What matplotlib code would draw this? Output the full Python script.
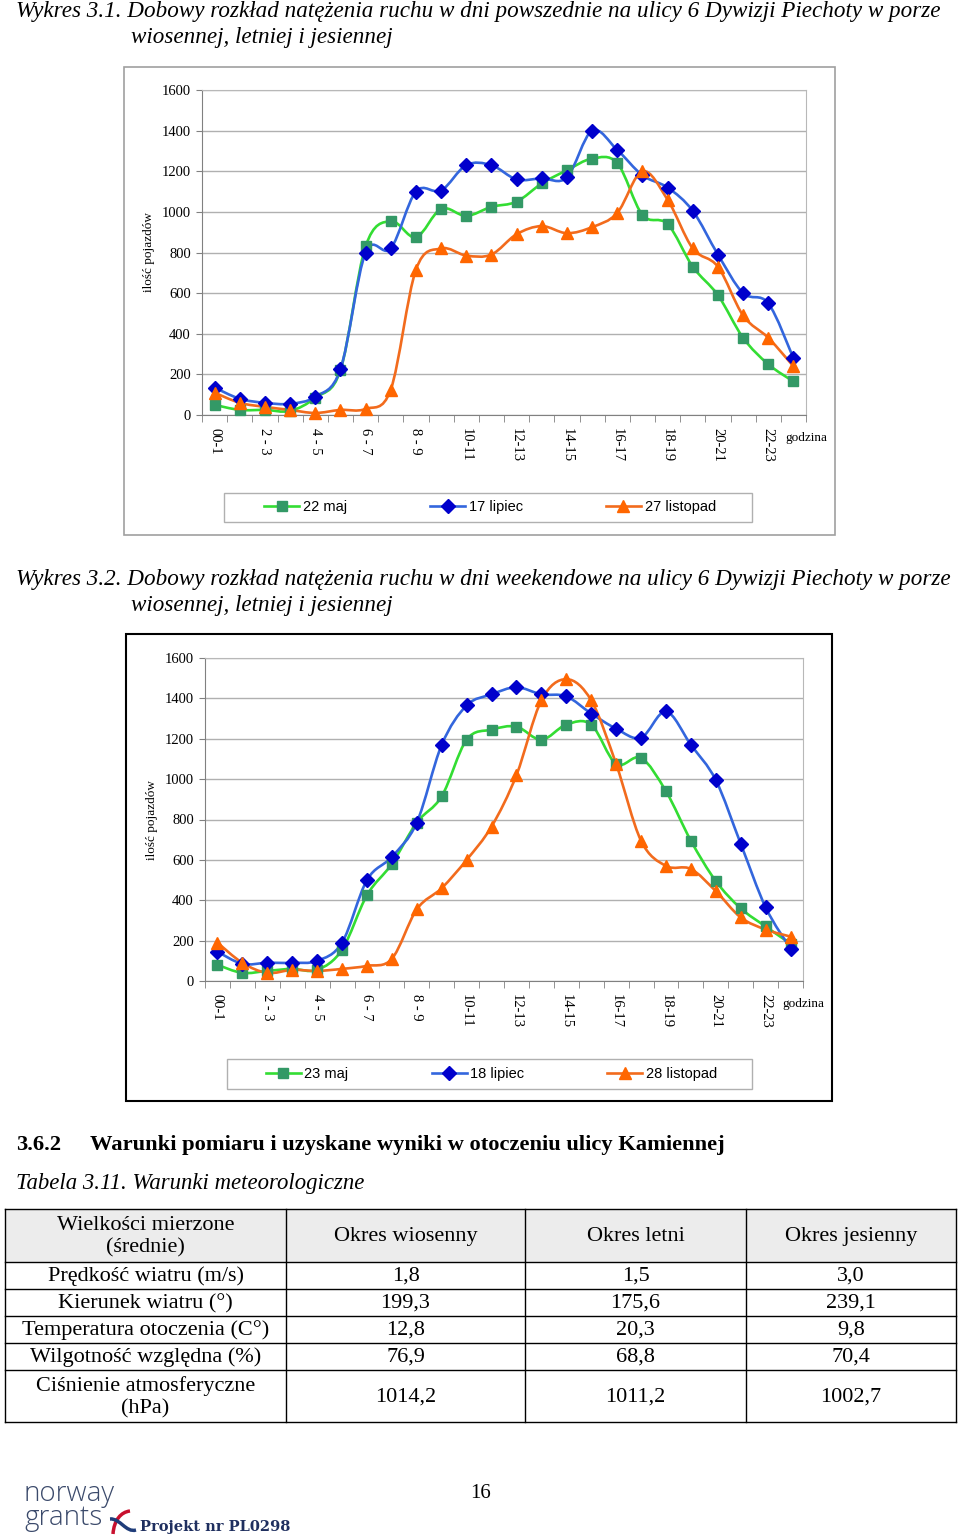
import matplotlib
matplotlib.use("Agg")
import matplotlib.pyplot as plt
from matplotlib.path import Path
from matplotlib.patches import PathPatch, Rectangle
from matplotlib.lines import Line2D

# godziny (kategorie osi X)
hours = list(range(24))
hour_labels = ['00-1', '2 - 3', '4 - 5', '6 - 7', '8 - 9', '10-11',
               '12-13', '14-15', '16-17', '18-19', '20-21', '22-23']

# wykres 3.1 - dni powszednie
maj22 = [50, 25, 25, 20, 85, 220, 830, 955, 875, 1015, 980, 1025,
         1050, 1140, 1205, 1262, 1240, 985, 940, 730, 590, 380, 250, 165]
lip17 = [135, 80, 60, 55, 90, 225, 800, 820, 1100, 1105, 1230, 1230,
         1160, 1165, 1170, 1400, 1305, 1180, 1120, 1005, 790, 600, 550, 280]
lis27 = [110, 60, 40, 25, 10, 25, 30, 125, 715, 820, 785, 790,
         890, 930, 895, 925, 995, 1200, 1060, 820, 730, 490, 380, 240]

# wykres 3.2 - weekend
maj23 = [80, 40, 50, 60, 55, 155, 425, 580, 785, 915, 1195, 1245,
         1260, 1195, 1270, 1270, 1075, 1105, 940, 695, 495, 360, 270, 185]
lip18 = [145, 85, 90, 90, 100, 190, 500, 615, 785, 1170, 1365, 1420,
         1455, 1420, 1410, 1325, 1250, 1205, 1335, 1170, 995, 680, 365, 160]
lis28 = [190, 90, 40, 55, 50, 60, 75, 110, 355, 460, 600, 765,
         1020, 1390, 1495, 1390, 1075, 695, 570, 555, 445, 315, 255, 220]

# tabela 3.11
tab_header = ['Wielkości mierzone\n(średnie)', 'Okres wiosenny', 'Okres letni', 'Okres jesienny']
tab_rows = ['Prędkość wiatru (m/s)', 'Kierunek wiatru (°)', 'Temperatura otoczenia (C°)',
            'Wilgotność względna (%)', 'Ciśnienie atmosferyczne\n(hPa)']
tab_spring = ['1,8', '199,3', '12,8', '76,9', '1014,2']
tab_summer = ['1,5', '175,6', '20,3', '68,8', '1011,2']
tab_autumn = ['3,0', '239,1', '9,8', '70,4', '1002,7']

SERIF = ['Liberation Serif', 'DejaVu Serif']
SANS = ['Liberation Sans', 'DejaVu Sans']

W, H = 960, 1539
fig = plt.figure(figsize=(W / 100, H / 100), dpi=100)
fig.patch.set_facecolor('white')

page = fig.add_axes([0, 0, 1, 1])
page.set_xlim(0, W)
page.set_ylim(H, 0)
page.axis('off')
page.set_zorder(0)


def smooth_path(xs, ys):
    # wygladzona linia jak w Excelu (krzywe Beziera przez punkty)
    pts = list(zip(xs, ys))
    n = len(pts)
    verts = [pts[0]]
    codes = [Path.MOVETO]
    for i in range(n - 1):
        p0 = pts[i - 1] if i > 0 else pts[i]
        p1 = pts[i]
        p2 = pts[i + 1]
        p3 = pts[i + 2] if i + 2 < n else pts[i + 1]
        c1 = (p1[0] + (p2[0] - p0[0]) / 6, p1[1] + (p2[1] - p0[1]) / 6)
        c2 = (p2[0] - (p3[0] - p1[0]) / 6, p2[1] - (p3[1] - p1[1]) / 6)
        verts += [c1, c2, p2]
        codes += [Path.CURVE4] * 3
    return Path(verts, codes)


styles = [
    dict(line='#33dd33', face='#339966', marker='s', ms=7),
    dict(line='#3366dd', face='#0000cc', marker='D', ms=7),
    dict(line='#f26b1d', face='#ff6600', marker='^', ms=9),
]


def draw_chart(rect, series, labels, legend_box):
    left, right, top, bottom = rect
    ax = fig.add_axes([left / W, 1 - bottom / H, (right - left) / W, (bottom - top) / H])
    ax.set_zorder(2)
    ax.set_xlim(-0.5, 23.5)
    ax.set_ylim(0, 1600)
    ax.set_yticks(range(0, 1601, 200))
    ax.set_yticklabels([str(v) for v in range(0, 1601, 200)], family=SERIF, fontsize=10.5)
    ax.set_xticks(range(0, 24, 2))
    ax.set_xticklabels(hour_labels, rotation=-90, family=SERIF, fontsize=10.5, va='top')
    ax.set_xticks([h - 0.5 for h in range(25)], minor=True)
    ax.tick_params(axis='x', which='major', length=0, pad=9)
    ax.tick_params(axis='x', which='minor', length=5, color='#808080')
    ax.tick_params(axis='y', length=4, color='#808080', pad=4)
    ax.grid(axis='y', color='#b0b0b0', linewidth=1)
    ax.set_axisbelow(True)
    for s in ['top', 'right']:
        ax.spines[s].set_color('#b8b8b8')
    for s in ['left', 'bottom']:
        ax.spines[s].set_color('#808080')
    ax.set_ylabel('ilość pojazdów', family=SERIF, fontsize=9.5, labelpad=5)
    ax.text(1.0, -0.07, 'godzina', transform=ax.transAxes, family=SERIF,
            fontsize=9.5, ha='center', va='center')

    handles = []
    for vals, st, lab in zip(series, styles, labels):
        ax.add_patch(PathPatch(smooth_path(hours, vals), fill=False,
                               edgecolor=st['line'], linewidth=1.9, zorder=3))
        ax.plot(hours, vals, linestyle='none', marker=st['marker'], ms=st['ms'],
                mfc=st['face'], mec=st['face'], zorder=4, clip_on=False)
        handles.append(Line2D([], [], color=st['line'], lw=1.9, marker=st['marker'],
                              ms=st['ms'], mfc=st['face'], mec=st['face']))

    # ramka legendy
    x0, x1, y0, y1 = legend_box
    page.add_patch(Rectangle((x0, y0), x1 - x0, y1 - y0, fill=False,
                             edgecolor='#b0b0b0', lw=1))
    ax.legend(handles, labels, loc='center', ncol=3,
              bbox_to_anchor=((x0 + x1) / 2 + 2, (y0 + y1) / 2),
              bbox_transform=page.transData, prop={'family': SANS, 'size': 10.5},
              frameon=False, handlelength=2.4, handletextpad=0.25, columnspacing=5.7,
              borderpad=0.3, numpoints=1)
    return ax


# ramki wykresow
page.add_patch(Rectangle((124, 67), 711, 468, fill=False, edgecolor='#a0a0a0', lw=1.2))
page.add_patch(Rectangle((126, 634), 706, 467, fill=False, edgecolor='black', lw=1.5))

draw_chart((202, 806, 90, 415), [maj22, lip17, lis27],
           ['22 maj', '17 lipiec', '27 listopad'], (224, 752, 493, 522))
draw_chart((205, 803, 658, 981), [maj23, lip18, lis28],
           ['23 maj', '18 lipiec', '28 listopad'], (227, 752, 1059, 1089))

# tytuly
TFS = 16.7
page.text(16, 12, 'Wykres 3.1. Dobowy rozkład natężenia ruchu w dni powszednie na ulicy 6 Dywizji Piechoty w porze',
          family=SERIF, style='italic', fontsize=TFS, va='center')
page.text(131, 38, 'wiosennej, letniej i jesiennej', family=SERIF, style='italic', fontsize=TFS, va='center')
page.text(16, 579, 'Wykres 3.2. Dobowy rozkład natężenia ruchu w dni weekendowe na ulicy 6 Dywizji Piechoty w porze',
          family=SERIF, style='italic', fontsize=TFS, va='center')
page.text(131, 605, 'wiosennej, letniej i jesiennej', family=SERIF, style='italic', fontsize=TFS, va='center')

page.text(16, 1145, '3.6.2', family=SERIF, weight='bold', fontsize=16.2, va='center')
page.text(90, 1145, 'Warunki pomiaru i uzyskane wyniki w otoczeniu ulicy Kamiennej',
          family=SERIF, weight='bold', fontsize=16.2, va='center')
page.text(16, 1183, 'Tabela 3.11. Warunki meteorologiczne', family=SERIF, style='italic',
          fontsize=16.4, va='center')

# tabela
col_x = [5, 286, 525, 746, 956]
row_y = [1209, 1262, 1289, 1316, 1343, 1370, 1422]
page.add_patch(Rectangle((col_x[0], row_y[0]), col_x[-1] - col_x[0], row_y[1] - row_y[0],
                         facecolor='#ececec', edgecolor='none'))
for x in col_x:
    page.plot([x, x], [row_y[0], row_y[-1]], color='black', lw=1)
for y in row_y:
    page.plot([col_x[0], col_x[-1]], [y, y], color='black', lw=1)

cells = [tab_header] + [[r, a, b, c] for r, a, b, c in zip(tab_rows, tab_spring, tab_summer, tab_autumn)]
for i, row in enumerate(cells):
    yc = (row_y[i] + row_y[i + 1]) / 2 + 1
    for j, txt in enumerate(row):
        xc = (col_x[j] + col_x[j + 1]) / 2
        page.text(xc, yc, txt, family=SERIF, fontsize=16, ha='center', va='center',
                  linespacing=1.2)

# stopka
page.text(481, 1494, '16', family=SERIF, fontsize=15, ha='center', va='center')
page.text(24, 1506, 'norway\ngrants', family=['Open Sans', 'DejaVu Sans'], weight='light',
          fontsize=20, color='#3b4a6b', va='center', linespacing=0.78)
red_arc = Path([(113, 1534), (114, 1520), (121, 1512), (130, 1511)],
               [Path.MOVETO, Path.CURVE4, Path.CURVE4, Path.CURVE4])
blue_arc = Path([(110, 1519), (120, 1518), (126, 1533), (136, 1530)],
                [Path.MOVETO, Path.CURVE4, Path.CURVE4, Path.CURVE4])
page.add_patch(PathPatch(red_arc, fill=False, edgecolor='#c8102e', lw=2.5))
page.add_patch(PathPatch(blue_arc, fill=False, edgecolor='#1f3d7a', lw=2.5))
page.text(140, 1527, 'Projekt nr PL0298', family=['DejaVu Serif'], weight='bold', fontsize=10.5,
          color='#1f2f5f', va='center')

fig.savefig('out.png', dpi=100)
